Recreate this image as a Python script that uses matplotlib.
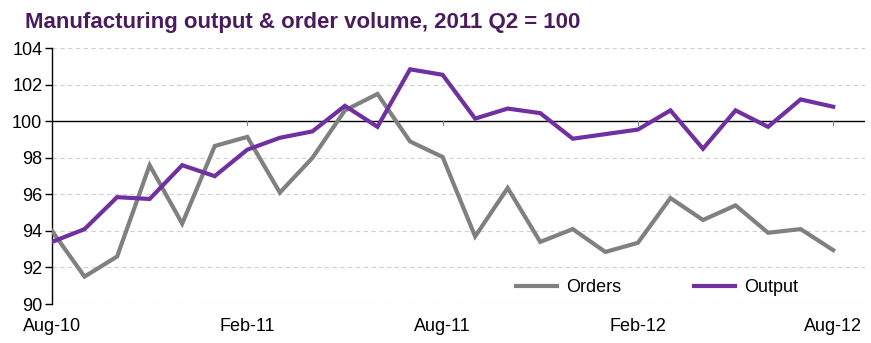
"""
Manufacturing output & order volume, 2011 Q2 = 100
Monthly index, Aug-10 to Aug-12.
"""

import matplotlib
matplotlib.use('Agg')
import matplotlib.pyplot as plt
import numpy as np

plt.rcParams['font.family'] = ['Liberation Sans', 'DejaVu Sans']

# Months Aug-10 .. Aug-12 (25 monthly points)
months = ['Aug-10', 'Sep-10', 'Oct-10', 'Nov-10', 'Dec-10', 'Jan-11', 'Feb-11',
          'Mar-11', 'Apr-11', 'May-11', 'Jun-11', 'Jul-11', 'Aug-11', 'Sep-11',
          'Oct-11', 'Nov-11', 'Dec-11', 'Jan-12', 'Feb-12', 'Mar-12', 'Apr-12',
          'May-12', 'Jun-12', 'Jul-12', 'Aug-12']

orders = [94.0, 91.5, 92.6, 97.6, 94.4, 98.65, 99.15, 96.1, 98.0, 100.6,
          101.5, 98.9, 98.05, 93.7, 96.35, 93.4, 94.1, 92.85, 93.35, 95.8,
          94.6, 95.4, 93.9, 94.1, 92.95]

output = [93.4, 94.1, 95.85, 95.75, 97.6, 97.0, 98.45, 99.1, 99.45, 100.85,
          99.7, 102.85, 102.55, 100.15, 100.7, 100.45, 99.05, 99.3, 99.55,
          100.6, 98.5, 100.6, 99.7, 101.2, 100.8]

tick_labels = ['Aug-10', 'Feb-11', 'Aug-11', 'Feb-12', 'Aug-12']

GREY = '#808080'
PURPLE = '#7030A0'
TITLE_COLOR = '#4A1C5C'


def main():
    fig = plt.figure(figsize=(8.71, 3.43), dpi=100)
    ax = fig.add_axes([0.0597, 0.1137, 0.9335, 0.7455])

    x = np.arange(len(months))

    # light dashed gridlines
    for yv in np.arange(90, 105, 2):
        if yv != 100:
            ax.axhline(yv, color='#D0D0D0', linewidth=0.8, linestyle=(0, (4, 3)), zorder=0)
    # category axis crosses at 100
    ax.axhline(100, color='black', linewidth=1.0, zorder=1)

    ax.plot(x, orders, color=GREY, linewidth=3, solid_joinstyle='miter', label='Orders', zorder=3)
    ax.plot(x, output, color=PURPLE, linewidth=3, solid_joinstyle='miter', label='Output', zorder=4)

    # small tick marks hanging from the 100 line
    for xi in x[::6]:
        if xi > 0:
            ax.plot([xi, xi], [100, 99.8], color='#808080', linewidth=0.8, zorder=2)

    ax.set_xlim(0, 24.98)
    ax.set_ylim(90, 104)
    ax.set_yticks(np.arange(90, 105, 2))
    ax.set_xticks(x[::6])
    ax.set_xticklabels(tick_labels)

    for s in ['top', 'right', 'bottom']:
        ax.spines[s].set_visible(False)
    ax.spines['left'].set_linewidth(1.0)
    ax.tick_params(axis='y', direction='out', length=5, width=1.0, labelsize=13, pad=2)
    ax.tick_params(axis='x', length=0, labelsize=13, pad=10)

    ax.legend(loc='center', bbox_to_anchor=(0.744, 0.063), ncol=2, frameon=False,
              fontsize=13, handlelength=2.3, columnspacing=4.0, handletextpad=0.5)

    fig.text(0.029, 0.9175, 'Manufacturing output & order volume, 2011 Q2 = 100',
             fontsize=16, fontweight='bold', color=TITLE_COLOR, ha='left', va='baseline')

    fig.savefig('out.png', dpi=100)


if __name__ == '__main__':
    main()
